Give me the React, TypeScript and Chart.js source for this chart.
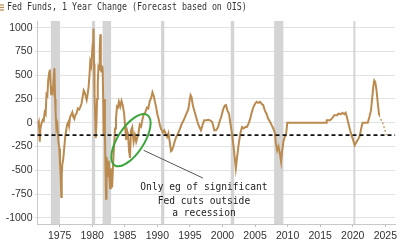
import { useEffect, useRef } from "react";
import { Chart, registerables } from "chart.js";

Chart.register(...registerables);

// Year-over-year change in the fed funds rate, basis points (decimal years)
const years = [
  1971.65, 1971.8, 1971.95, 1972.05, 1972.2, 1972.4, 1972.55, 1972.7, 1972.85,
  1973.0, 1973.1, 1973.25, 1973.4, 1973.5, 1973.6, 1973.7, 1973.8, 1973.95,
  1974.1, 1974.2, 1974.3, 1974.38, 1974.5, 1974.65, 1974.8, 1974.95,
  1975.05, 1975.15, 1975.25, 1975.32, 1975.4, 1975.55, 1975.7, 1975.85,
  1976.0, 1976.15, 1976.35, 1976.45, 1976.6, 1976.75, 1976.95,
  1977.1, 1977.25, 1977.4, 1977.6, 1977.8,
  1978.0, 1978.2, 1978.35, 1978.5, 1978.7, 1978.85,
  1979.0, 1979.15, 1979.3, 1979.45, 1979.6, 1979.7, 1979.85,
  1980.0, 1980.1, 1980.2, 1980.28, 1980.35, 1980.45, 1980.55, 1980.65, 1980.75, 1980.85, 1980.95,
  1981.05, 1981.15, 1981.25, 1981.32, 1981.4, 1981.5, 1981.6, 1981.7, 1981.75, 1981.85, 1981.95,
  1982.05, 1982.12, 1982.2, 1982.3, 1982.45, 1982.55, 1982.65, 1982.75, 1982.85, 1982.95,
  1983.05, 1983.2, 1983.35, 1983.5, 1983.65, 1983.8, 1983.95,
  1984.1, 1984.3, 1984.5, 1984.7, 1984.9,
  1985.05, 1985.2, 1985.35, 1985.5, 1985.65, 1985.8, 1985.95,
  1986.15, 1986.35, 1986.55, 1986.75, 1986.95,
  1987.1, 1987.3, 1987.5, 1987.7, 1987.9,
  1988.15, 1988.4, 1988.6, 1988.85,
  1989.05, 1989.25, 1989.45, 1989.6, 1989.8,
  1990.0, 1990.2, 1990.4, 1990.6, 1990.85,
  1991.05, 1991.3, 1991.5, 1991.7, 1991.9,
  1992.1, 1992.25, 1992.45, 1992.65, 1992.9,
  1993.2, 1993.5, 1993.75,
  1994.0, 1994.25, 1994.5, 1994.75, 1994.95,
  1995.1, 1995.25, 1995.45, 1995.7, 1995.95,
  1996.2, 1996.45, 1996.7,
  1997.0, 1997.2, 1997.5, 1997.8,
  1998.1, 1998.4, 1998.6, 1998.75,
  1999.0, 1999.3, 1999.5, 1999.8,
  2000.1, 2000.35, 2000.55, 2000.75,
  2001.0, 2001.2, 2001.45, 2001.7, 2001.9,
  2002.05, 2002.25, 2002.5, 2002.75,
  2003.0, 2003.25, 2003.5, 2003.75,
  2004.0, 2004.25, 2004.5, 2004.75,
  2005.0, 2005.25, 2005.5, 2005.75,
  2006.0, 2006.25, 2006.5, 2006.75,
  2007.0, 2007.3, 2007.55, 2007.8,
  2008.05, 2008.2, 2008.4, 2008.6, 2008.85,
  2009.0, 2009.15, 2009.35, 2009.55, 2009.75, 2009.95,
  2015.9, 2016.0, 2016.5, 2016.95,
  2017.15, 2017.6, 2017.8,
  2018.2, 2018.4, 2018.7, 2018.9,
  2019.1, 2019.35, 2019.6, 2019.8,
  2020.05, 2020.3, 2020.6, 2020.9,
  2021.1, 2021.3, 2021.5,
  2022.3, 2022.55, 2022.8,
  2023.0, 2023.15, 2023.3, 2023.45, 2023.65, 2023.85,
  2024.05,
];

const fedChange = [
  -20, 10, -200, -60, -10, 30, 20, 110, 90,
  320, 260, 450, 530, 560, 420, 300, 350, 320,
  480, 575, 250, 110, -60, -20, -200, -270,
  -420, -550, -780, -560, -440, -380, -270, -150,
  -80, -20, 10, -30, 60, 80, 110,
  60, 40, 80, 100, 150,
  140, 170, 200, 260, 340, 320,
  280, 240, 300, 380, 520, 640, 600,
  750, 700, 990, 620, 300, 80, -160, 0, 250, 400, 580,
  560, 760, 930, 620, 540, 600, 560, 200, -120, 250, -100,
  -500, -800, -360, -420, -560, -400, -600, -690, -480, -620,
  -680, -450, -250, -60, 40, 170, 160,
  220, 170, 230, 180, 95,
  -40, -180, -80, -120, -290, -370, -80,
  -45, -200, -130, -200, -150,
  -110, -20, -40, 30, 90,
  110, 160, 150, 230,
  260, 320, 280, 230, 170,
  90, 40, -30, -70, -100,
  -80, -120, -150, -110, -200,
  -300, -290, -250, -200, -150,
  -110, -60, -10,
  20, 60, 100, 140, 230,
  290, 270, 180, 120, 60,
  0, -45, -80,
  -10, 25, 25, 30,
  25, 10, -40, -80,
  -80, -50, 0, 60,
  140, 180, 185, 130,
  95, 0, -110, -250, -380,
  -480, -360, -220, -110,
  -45, -60, -45, -45,
  -10, 40, 110, 165,
  200, 220, 210, 220,
  200, 185, 130, 95,
  45, 10, -25, -60,
  -110, -220, -290, -250, -340,
  -410, -300, -200, -150, -130, 0,
  0, 25, 25, 55,
  80, 80, 95,
  90, 105, 90, 105,
  60, -10, -80, -130,
  -180, -236, -200, -165,
  -130, -60, 0,
  0, 60, 130,
  270, 380, 445, 430, 340, 200,
  80,
];

// Path implied by OIS pricing
const forecastYears = [2024.05, 2024.35, 2024.65, 2024.9, 2025.15];
const forecastChange = [80, 30, -10, -70, -130];

// US recessions (decimal years)
const recessionStart = [1973.65, 1979.95, 1981.6, 1990.57, 2001.27, 2007.93, 2020.1];
const recessionEnd = [1975.05, 1980.45, 1982.9, 1991.07, 2001.8, 2009.35, 2020.4];

const oisLevel = -130;

const titleText = "Fed Funds, 1 Year Change (Forecast based on OIS)";
const noteLines = ["Only eg of significant", "Fed cuts outside", "a recession"];

const LINE = "#bb8a4e";
const TICK_FONT = { family: "'Liberation Sans', Arial, sans-serif", size: 10.5 };
const MONO = "'DejaVu Sans Mono', 'Liberation Mono', monospace";

const bandsPlugin = {
  id: "recessionBands",
  beforeDatasetsDraw(chart: any) {
    const { ctx, chartArea, scales } = chart;
    const xs = scales.x;
    ctx.save();
    ctx.fillStyle = "#d4d4d4";
    recessionStart.forEach((s, i) => {
      const x0 = xs.getPixelForValue(s);
      const x1 = xs.getPixelForValue(recessionEnd[i]);
      ctx.fillRect(x0, chartArea.top, x1 - x0, chartArea.bottom - chartArea.top);
    });
    ctx.restore();
  },
};

const notesPlugin = {
  id: "notes",
  afterDatasetsDraw(chart: any) {
    const { ctx, chartArea, scales } = chart;
    const xs = scales.x;
    const ys = scales.y;

    // dashed reference line
    ctx.save();
    const yl = ys.getPixelForValue(oisLevel);
    ctx.strokeStyle = "#111";
    ctx.lineWidth = 1.8;
    ctx.setLineDash([4, 3]);
    ctx.beginPath();
    ctx.moveTo(chartArea.left - 7, yl);
    ctx.lineTo(chartArea.right, yl);
    ctx.stroke();
    ctx.restore();

    // ellipse around the mid-80s easing
    ctx.save();
    ctx.strokeStyle = "#3aa63a";
    ctx.lineWidth = 2;
    ctx.beginPath();
    ctx.ellipse(
      xs.getPixelForValue(1985.95),
      ys.getPixelForValue(-183),
      30,
      13,
      (-57 * Math.PI) / 180,
      0,
      Math.PI * 2
    );
    ctx.stroke();
    ctx.restore();

    // connector
    ctx.save();
    ctx.strokeStyle = "#555";
    ctx.lineWidth = 1;
    ctx.beginPath();
    ctx.moveTo(xs.getPixelForValue(1987.9), ys.getPixelForValue(-290));
    ctx.lineTo(xs.getPixelForValue(1997.0), ys.getPixelForValue(-582));
    ctx.stroke();
    ctx.restore();

    // note text
    ctx.save();
    ctx.fillStyle = "#222";
    ctx.font = `10px ${MONO}`;
    ctx.textAlign = "center";
    ctx.textBaseline = "middle";
    const cx = xs.getPixelForValue(1997.15);
    const noteValues = [-677, -824, -950];
    noteLines.forEach((line, i) => {
      ctx.save();
      ctx.translate(cx, ys.getPixelForValue(noteValues[i]));
      ctx.scale(0.96, 1);
      ctx.fillText(line, 0, 0);
      ctx.restore();
    });
    ctx.restore();
  },
  afterDraw(chart: any) {
    const { ctx } = chart;
    // legend marker
    ctx.save();
    ctx.strokeStyle = LINE;
    ctx.lineWidth = 1.2;
    [5, 7.5, 10].forEach((y) => {
      ctx.beginPath();
      ctx.moveTo(0, y);
      ctx.lineTo(4, y);
      ctx.stroke();
    });
    // title
    ctx.fillStyle = "#333";
    ctx.font = `10px ${MONO}`;
    ctx.textBaseline = "middle";
    ctx.translate(7, 7.5);
    ctx.scale(0.83, 1);
    ctx.fillText(titleText, 0, 0);
    ctx.restore();
  },
};

export default function App() {
  const ref = useRef<HTMLCanvasElement>(null);

  useEffect(() => {
    document.body.style.margin = "0";
    const canvas = ref.current;
    if (!canvas) return;
    const chart = new Chart(canvas, {
      type: "line",
      data: {
        datasets: [
          {
            data: years.map((x, i) => ({ x, y: fedChange[i] })),
            borderColor: LINE,
            borderWidth: 2,
            pointRadius: 0,
            tension: 0,
            fill: false,
          },
          {
            data: forecastYears.map((x, i) => ({ x, y: forecastChange[i] })),
            borderColor: LINE,
            borderWidth: 1.2,
            borderDash: [2, 2],
            pointRadius: 0,
            tension: 0,
            fill: false,
          },
        ],
      },
      options: {
        animation: false,
        responsive: false,
        maintainAspectRatio: false,
        layout: { padding: { top: 21, left: 0, right: 0, bottom: 0 }, autoPadding: false } as any,
        plugins: {
          legend: { display: false },
          tooltip: { enabled: false },
          title: { display: false },
        },
        scales: {
          x: {
            type: "linear",
            min: 1971.6,
            max: 2026.5,
            afterFit: (s: any) => {
              s.height = 26;
            },
            ticks: {
              stepSize: 5,
              includeBounds: false,
              autoSkip: false,
              maxRotation: 0,
              padding: 3,
              color: "#333",
              font: TICK_FONT,
              callback: (v: any) => String(v),
            },
            grid: { drawOnChartArea: false, tickLength: 3, color: "#bdbdbd" },
            border: { color: "#c8c8c8" },
          },
          y: {
            min: -1065,
            max: 1070,
            afterFit: (s: any) => {
              s.width = 37.5;
            },
            ticks: {
              stepSize: 250,
              includeBounds: false,
              padding: 2,
              color: "#333",
              font: TICK_FONT,
              callback: (v: any) => String(v),
            },
            grid: { color: "#e2e2e2", tickLength: 3 },
            border: { color: "#c8c8c8" },
          },
        },
      },
      plugins: [bandsPlugin, notesPlugin],
    });
    return () => chart.destroy();
  }, []);

  return (
    <div style={{ width: 400, height: 250, background: "#fff" }}>
      <canvas ref={ref} width={400} height={250} style={{ display: "block" }} />
    </div>
  );
}
